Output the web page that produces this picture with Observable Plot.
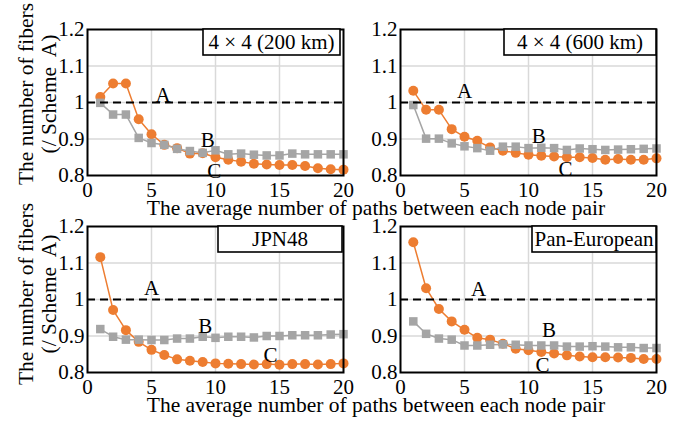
<!DOCTYPE html>
<html>
<head>
<meta charset="utf-8">
<script src="https://cdn.jsdelivr.net/npm/d3@7"></script>
<script src="https://cdn.jsdelivr.net/npm/@observablehq/plot@0.6"></script>
<style>
  html, body { margin: 0; padding: 0; background: #fff; }
  #root { position: relative; width: 686px; height: 424px; background: #fff; overflow: hidden; }
  #root svg { position: absolute; overflow: visible; }
</style>
</head>
<body>
<div id="root"></div>
<script>
// ---------- data ----------
const paths = [1, 2, 3, 4, 5, 6, 7, 8, 9, 10, 11, 12, 13, 14, 15, 16, 17, 18, 19, 20];
const xTicks = [0, 5, 10, 15, 20];
const yTicks = [0.8, 0.9, 1.0, 1.1, 1.2];
const schemeA = 1.0;

const panelNames = ["4 \u00D7 4 (200 km)", "4 \u00D7 4 (600 km)", "JPN48", "Pan-European"];

const schemeB_200 = [0.999, 0.967, 0.967, 0.903, 0.889, 0.884, 0.873, 0.867, 0.862, 0.869, 0.858, 0.860, 0.857, 0.855, 0.855, 0.860, 0.858, 0.858, 0.858, 0.858];
const schemeC_200 = [1.015, 1.052, 1.052, 0.954, 0.913, 0.884, 0.875, 0.860, 0.861, 0.850, 0.843, 0.838, 0.832, 0.830, 0.829, 0.829, 0.826, 0.820, 0.817, 0.816];

const schemeB_600 = [0.993, 0.901, 0.901, 0.888, 0.880, 0.875, 0.868, 0.879, 0.879, 0.875, 0.876, 0.875, 0.870, 0.874, 0.872, 0.870, 0.871, 0.872, 0.873, 0.874];
const schemeC_600 = [1.032, 0.980, 0.980, 0.927, 0.906, 0.895, 0.877, 0.868, 0.862, 0.857, 0.854, 0.852, 0.850, 0.850, 0.848, 0.843, 0.845, 0.843, 0.843, 0.847];

const schemeB_jpn = [0.919, 0.898, 0.890, 0.890, 0.889, 0.889, 0.893, 0.893, 0.898, 0.895, 0.898, 0.898, 0.896, 0.900, 0.900, 0.902, 0.902, 0.902, 0.904, 0.905];
const schemeC_jpn = [1.116, 0.971, 0.916, 0.884, 0.862, 0.848, 0.836, 0.832, 0.829, 0.825, 0.824, 0.823, 0.822, 0.823, 0.821, 0.823, 0.823, 0.822, 0.823, 0.825];

const schemeB_pan = [0.940, 0.906, 0.893, 0.890, 0.874, 0.874, 0.876, 0.877, 0.876, 0.874, 0.874, 0.874, 0.871, 0.871, 0.872, 0.871, 0.869, 0.869, 0.867, 0.867];
const schemeC_pan = [1.157, 1.031, 0.974, 0.940, 0.917, 0.895, 0.890, 0.879, 0.865, 0.861, 0.856, 0.852, 0.847, 0.844, 0.842, 0.842, 0.841, 0.840, 0.837, 0.837];

const schemeLabels = ["A", "B", "C"];

// ---------- layout / style config ----------
const FONT = "'Liberation Serif', 'Times New Roman', Times, serif";
const FS = 21;
const TFS = 21.5;
const ORANGE = "#ED7D31";
const GRAY = "#A5A5A5";
const M = {left: 50, right: 15, top: 10, bottom: 30};
const PW = 256, PH = 146;

const panels = [
  {name: panelNames[0], B: schemeB_200, C: schemeC_200, left: 37, top: 19,
   lab: [[5.9, 1.02], [9.4, 0.897], [9.9, 0.812]], box: {w: 137, inset: 3}},
  {name: panelNames[1], B: schemeB_600, C: schemeC_600, left: 350, top: 18.5,
   lab: [[5.0, 1.03], [10.8, 0.908], [12.9, 0.818]], box: {w: 152, inset: 0}},
  {name: panelNames[2], B: schemeB_jpn, C: schemeC_jpn, left: 37, top: 216,
   lab: [[5.0, 1.03], [9.2, 0.928], [14.3, 0.847]], box: {w: 124, inset: 1}},
  {name: panelNames[3], B: schemeB_pan, C: schemeC_pan, left: 350, top: 216,
   lab: [[6.1, 1.028], [11.6, 0.915], [11.1, 0.82]], box: {w: 124, inset: 0}}
];

const root = document.getElementById("root");

panels.forEach(p => {
  const dataB = paths.map((x, i) => ({x, y: p.B[i]}));
  const dataC = paths.map((x, i) => ({x, y: p.C[i]}));
  const labs = schemeLabels.map((t, i) => ({t, x: p.lab[i][0], y: p.lab[i][1]}));
  const chart = Plot.plot({
    width: M.left + PW + M.right,
    height: M.top + PH + M.bottom,
    marginLeft: M.left, marginRight: M.right, marginTop: M.top, marginBottom: M.bottom,
    style: {fontFamily: FONT, fontSize: FS + "px", background: "transparent", color: "#000", overflow: "visible"},
    x: {domain: [0, 20], ticks: xTicks, tickSize: 0, tickPadding: 7, label: null},
    y: {domain: [0.8, 1.2], ticks: yTicks, tickSize: 0, tickPadding: 3, label: null,
        tickFormat: d => (Math.abs(d - 1) < 1e-9 ? "1" : d.toFixed(1))},
    marks: [
      Plot.gridX([5, 10, 15], {stroke: "#d9d9d9", strokeOpacity: 1, strokeWidth: 1.5}),
      Plot.gridY([0.9, 1.0, 1.1], {stroke: "#d9d9d9", strokeOpacity: 1, strokeWidth: 1.5}),
      Plot.line(dataC, {x: "x", y: "y", stroke: ORANGE, strokeWidth: 1.5}),
      Plot.dot(dataC, {x: "x", y: "y", fill: ORANGE, r: 5, stroke: "none"}),
      Plot.line(dataB, {x: "x", y: "y", stroke: GRAY, strokeWidth: 1.5}),
      Plot.dot(dataB, {x: "x", y: "y", fill: GRAY, r: 4.8, symbol: "square", stroke: "none"}),
      Plot.ruleY([schemeA], {stroke: "#000", strokeWidth: 2, strokeDasharray: "8,5"}),
      Plot.text(labs, {x: "x", y: "y", text: "t", fontSize: FS, fill: "#000", fontFamily: FONT}),
      Plot.frame({stroke: "#000", strokeWidth: 2})
    ]
  });
  chart.style.left = p.left + "px";
  chart.style.top = p.top + "px";
  // inset name box (annotation)
  const svg = d3.select(chart);
  const bx = M.left + PW - p.box.inset - p.box.w;
  const by = M.top;
  const g = svg.append("g");
  g.append("rect").attr("x", bx).attr("y", by).attr("width", p.box.w).attr("height", 26)
    .attr("fill", "#fff").attr("stroke", "#000").attr("stroke-width", 1.6);
  g.append("text").attr("x", bx + p.box.w / 2).attr("y", by + 13).attr("dy", "0.35em")
    .attr("text-anchor", "middle").attr("font-family", FONT).attr("font-size", FS)
    .attr("fill", "#000").style("white-space", "pre").text(p.name);
  root.appendChild(chart);
});

// ---------- axis titles ----------
const xTitle = "The average number of paths between each node pair";
const yTitle1 = "The number of fibers";
const yTitle2 = "(/ Scheme  A)";
const ov = d3.select(root).append("svg")
  .attr("width", 686).attr("height", 424)
  .style("left", "0px").style("top", "0px")
  .style("pointer-events", "none")
  .attr("font-family", FONT).attr("font-size", TFS);
[215, 412].forEach(yb => {
  ov.append("text").attr("x", 376).attr("y", yb).attr("text-anchor", "middle").text(xTitle);
});
[94, 294].forEach(yc => {
  ov.append("text").attr("transform", `translate(25,${yc}) rotate(-90)`)
    .attr("text-anchor", "middle").attr("dy", "0.35em").text(yTitle1);
  ov.append("text").attr("transform", `translate(48,${yc}) rotate(-90)`)
    .attr("text-anchor", "middle").attr("dy", "0.35em").style("white-space", "pre").text(yTitle2);
});
</script>
</body>
</html>
